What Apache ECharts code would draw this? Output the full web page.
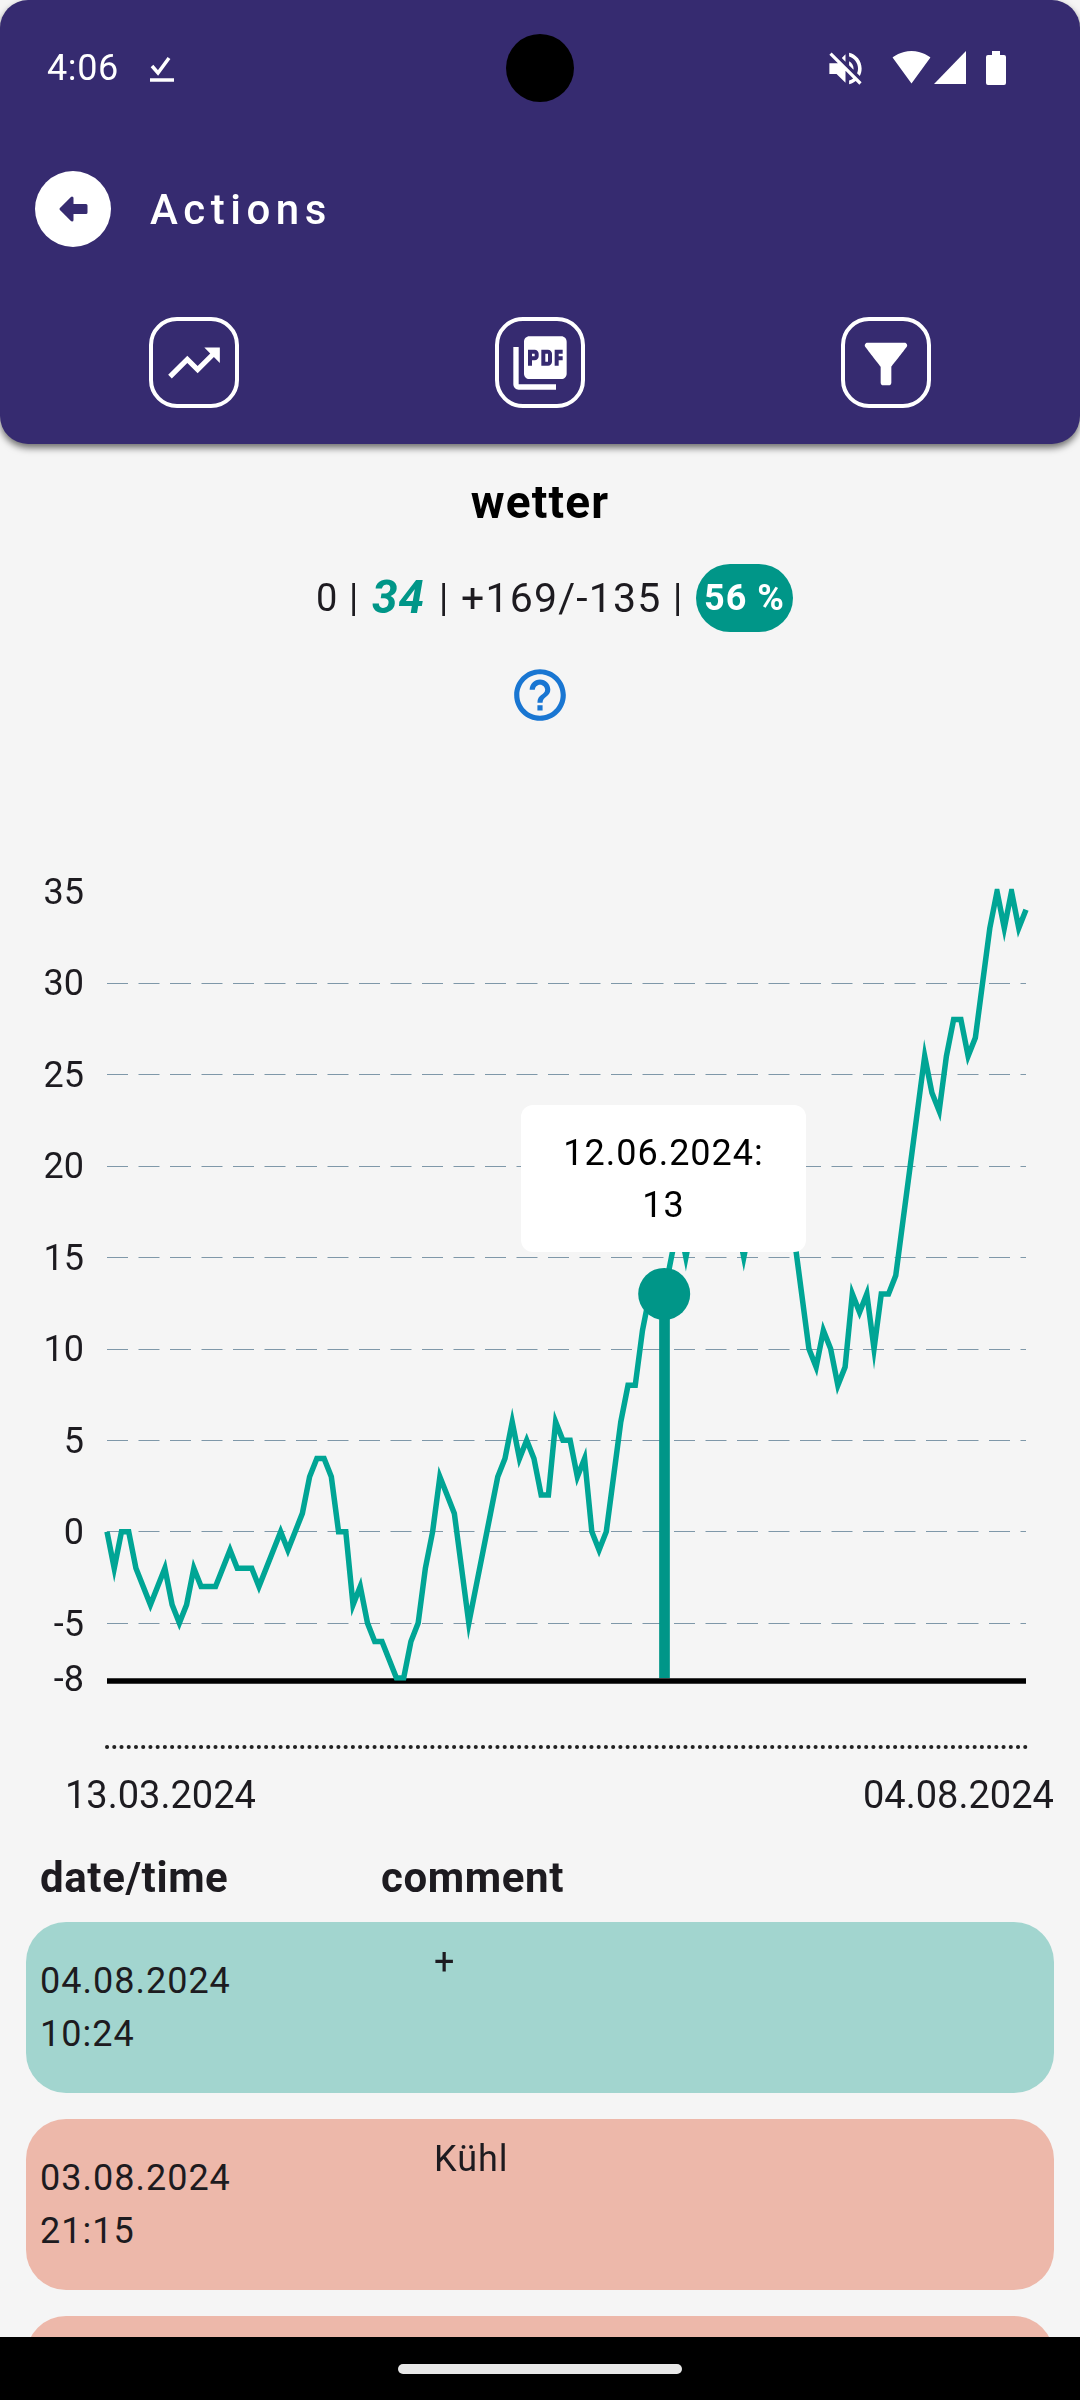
<!DOCTYPE html>
<html>

<head>
    <meta charset="utf-8">
    <title>Actions</title>
    <style>
        html, body { margin: 0; padding: 0; background: #f5f5f5; }
        body { position: relative; width: 1080px; height: 2400px; overflow: hidden; font-family: Roboto, sans-serif; color: #1d1b20; }
        #main { position: absolute; left: 0; top: 0; width: 1080px; height: 2400px; }
        .box { position: absolute; }
        .t { position: absolute; white-space: nowrap; line-height: 60px; height: 60px; margin-top: -30px; font-size: 36px; letter-spacing: 1px; }
        svg { position: absolute; }
        #header { left: 0; top: 0; width: 1080px; height: 444px; background: #362b70; border-radius: 28px; box-shadow: 0 4px 7px rgba(0, 0, 0, .55); }
        .btn { top: 317px; width: 82px; height: 83px; border: 4.5px solid #fff; border-radius: 28px; }
        .card { left: 26px; width: 1028px; height: 171px; border-radius: 40px; }
    </style>
</head>

<body>
<div id="main"></div>

<!-- header -->
<div class="box" id="header"></div>
<div class="box" style="left:506px;top:34px;width:68px;height:68px;border-radius:50%;background:#000"></div>
<div class="t" style="left:47px;top:68px;color:#fff;letter-spacing:.6px">4:06</div>
<svg style="left:148px;top:54px" width="28" height="30" viewBox="0 0 28 30"><path d="M4 12l6 7L21 4" fill="none" stroke="#fff" stroke-width="3.5"/><path d="M2 26h24" stroke="#fff" stroke-width="3.5"/></svg>
<svg style="left:824px;top:47px" width="43" height="43" viewBox="0 0 24 24"><path fill="#fff" d="M16.5 12c0-1.77-1.02-3.29-2.5-4.03v2.21l2.45 2.45c.03-.2.05-.41.05-.63zm2.5 0c0 .94-.2 1.82-.54 2.64l1.51 1.51C20.63 14.91 21 13.5 21 12c0-4.28-2.99-7.86-7-8.77v2.06c2.89.86 5 3.54 5 6.71zM4.27 3L3 4.27 7.73 9H3v6h4l5 5v-6.73l4.25 4.25c-.67.52-1.42.93-2.25 1.18v2.06c1.38-.31 2.63-.95 3.69-1.81L19.73 21 21 19.73l-9-9L4.27 3zM12 4L9.91 6.09 12 8.18V4z"/></svg>
<svg style="left:892px;top:46px" width="39" height="39" viewBox="0 0 24 24"><path fill="#fff" d="M12 23L23.64 7C23.19 6.66 18.71 3 12 3 5.28 3 .81 6.66.36 7z"/></svg>
<svg style="left:934px;top:51px" width="32" height="33" viewBox="0 0 32 33"><path fill="#fff" d="M0 33L32 0v33z"/></svg>
<svg style="left:986px;top:51px" width="20" height="34" viewBox="0 0 20 34"><path fill="#fff" d="M6 0h8v4h4q2 0 2 2v26q0 2-2 2H2q-2 0-2-2V6q0-2 2-2h4z"/></svg>

<div class="box" style="left:35px;top:171px;width:76px;height:76px;border-radius:50%;background:#fff"></div>
<svg style="left:35px;top:171px" width="76" height="76" viewBox="0 0 76 76"><path fill="#362b70" stroke="#362b70" stroke-width="3" stroke-linejoin="round" d="M26 38l11-11v7.500h14v7H37v7.500z"/></svg>
<div class="t" style="left:150px;top:210px;color:#fff;font-size:42px;font-weight:500;letter-spacing:5.5px">Actions</div>

<div class="box btn" style="left:148.500px"></div>
<div class="box btn" style="left:494.500px"></div>
<div class="box btn" style="left:840.500px"></div>
<svg style="left:163px;top:332px" width="62" height="62" viewBox="0 0 24 24"><path fill="#fff" d="M16 6l2.29 2.29-4.88 4.88-4-4L2 16.59 3.41 18l6-6 4 4 6.3-6.29L22 12V6z"/></svg>
<svg style="left:508px;top:331px" width="64" height="64" viewBox="0 0 24 24"><path fill="#fff" d="M20 2H8c-1.1 0-2 .9-2 2v12c0 1.1.9 2 2 2h12c1.1 0 2-.9 2-2V4c0-1.1-.9-2-2-2zm-8.500 7.500c0 .83-.67 1.500-1.500 1.500H9v2H7.500V7H10c.83 0 1.500.67 1.500 1.500v1zm5 2c0 .83-.67 1.500-1.500 1.500h-2.500V7H15c.83 0 1.500.67 1.500 1.500v3zm4-3H19v1h1.500V11H19v2h-1.500V7h3v1.500zM9 9.500h1v-1H9v1zM4 6H2v14c0 1.100.9 2 2 2h14v-2H4V6zm10 5.500h1v-3h-1v3z"/></svg>
<svg style="left:854px;top:332px" width="64" height="64" viewBox="0 0 24 24"><path fill="#fff" d="M4.250 5.610C6.270 8.200 10 13 10 13v6c0 .55.45 1 1 1h2c.55 0 1-.45 1-1v-6s3.720-4.800 5.740-7.390c.51-.66.04-1.610-.79-1.610H5.040c-.83 0-1.300.95-.79 1.610z"/></svg>

<!-- summary -->
<div class="t" style="left:0;width:1080px;text-align:center;top:502px;font-size:46px;font-weight:700;color:#000;letter-spacing:1.2px">wetter</div>
<div class="t" style="left:316px;top:598px;font-size:38px">0</div>
<div class="t" style="left:349px;top:598px;font-size:38px">|</div>
<div class="t" style="left:372px;top:597px;font-size:46px;font-weight:700;font-style:italic;color:#009688">34</div>
<div class="t" style="left:439px;top:598px;font-size:38px">|</div>
<div class="t" style="left:461px;top:598px;font-size:41px;letter-spacing:1.200px">+169/-135</div>
<div class="t" style="left:673px;top:598px;font-size:38px">|</div>
<div class="box" style="left:696px;top:564px;width:97px;height:68px;border-radius:34px;background:#009688"></div>
<div class="t" style="left:704px;top:598px;font-size:36px;font-weight:700;color:#fff">56 %</div>
<svg style="left:509px;top:664px" width="62" height="62" viewBox="0 0 24 24"><path fill="#1976d2" d="M11 18h2v-2h-2v2zm1-16C6.480 2 2 6.480 2 12s4.480 10 10 10 10-4.480 10-10S17.520 2 12 2zm0 18c-4.410 0-8-3.590-8-8s3.590-8 8-8 8 3.590 8 8-3.590 8-8 8zm0-14c-2.210 0-4 1.790-4 4h2c0-1.100.9-2 2-2s2 .9 2 2c0 2-3 1.750-3 5h2c0-2.250 3-2.500 3-5 0-2.210-1.790-4-4-4z"/></svg>

<!-- list -->
<div class="t" style="left:40px;top:1878px;font-size:42px;font-weight:700;letter-spacing:.6px">date/time</div>
<div class="t" style="left:381px;top:1878px;font-size:42px;font-weight:700;letter-spacing:.6px">comment</div>
<div class="box card" style="top:1922px;background:#a2d5cf"></div>
<div class="t" style="left:40px;top:1981px">04.08.2024</div>
<div class="t" style="left:40px;top:2034px">10:24</div>
<div class="t" style="left:434px;top:1962px">+</div>
<div class="box card" style="top:2119px;background:#edb8aa"></div>
<div class="t" style="left:40px;top:2178px">03.08.2024</div>
<div class="t" style="left:40px;top:2231px">21:15</div>
<div class="t" style="left:434px;top:2159px">Kühl</div>
<div class="box card" style="top:2316px;background:#edb8aa"></div>
<div class="box" style="left:0;top:2337px;width:1080px;height:63px;background:#000"></div>
<div class="box" style="left:398px;top:2364px;width:284px;height:10px;border-radius:5px;background:#e8e8e8"></div>

<script src="https://cdn.jsdelivr.net/npm/echarts@6/dist/echarts.min.js"></script>
<script>
    // values, one per action (the stretch behind the tooltip is estimated)
    var values = [
        0, -2, 0, 0, -2, -3, -4, -3, -2, -4,
        -5, -4, -2, -3, -3, -3, -2, -1, -2, -2,
        -2, -3, -2, -1, 0, -1, 0, 1, 3, 4,
        4, 3, 0, 0, -4, -3, -5, -6, -6, -7,
        -8, -8, -6, -5, -2, 0, 3, 2, 1, -2,
        -5, -3, -1, 1, 3, 4, 6, 4, 5, 4,
        2, 2, 6, 5, 5, 3, 4, 0, -1, 0,
        3, 6, 8, 8, 11, 13, 13, 13, 15, 17,
        15, 17, 18, 19, 20, 19, 18, 17, 15, 17,
        18, 19, 18, 18, 17, 16, 13, 10, 9, 11,
        10, 8, 9, 13, 12, 13, 10, 13, 13, 14,
        17, 20, 23, 26, 24, 23, 26, 28, 28, 26,
        27, 30, 33, 35, 33, 35, 33, 34
    ];
    var categories = values.map(function (v, i) { return i; });
    var dateLabels = ['13.03.2024', '04.08.2024'];
    var yLabels = [-8, -5, 0, 5, 10, 15, 20, 25, 30, 35];
    var gridValues = [-5, 0, 5, 10, 15, 20, 25, 30];
    var selectedIndex = 77;
    var selectedDate = '12.06.2024';

    var teal = '#009688';
    var myChart = echarts.init(document.getElementById('main'));
    var option = {
        animation: false,
        grid: { left: 107, top: 891.5, width: 919, height: 786.5 },
        tooltip: {
            trigger: 'axis',
            axisPointer: { type: 'none' },
            alwaysShowContent: true,
            position: [521, 1105],
            padding: 0,
            borderWidth: 0,
            backgroundColor: '#fff',
            shadowBlur: 0,
            shadowColor: 'transparent',
            extraCssText: 'box-shadow:none;border-radius:12px;width:285px;height:147px;',
            formatter: function (params) {
                return '<div style="font:36px/52px Roboto;letter-spacing:1px;color:#000;text-align:center;padding-top:22px">' +
                    selectedDate + ':<br>' + params[0].value + '</div>';
            }
        },
        xAxis: [{
            type: 'category',
            boundaryGap: false,
            data: categories,
            offset: 3,
            axisLine: { onZero: false, lineStyle: { color: '#000', width: 5.5, cap: 'butt' } },
            axisTick: { show: false },
            axisLabel: { show: false }
        }, {
            type: 'category',
            boundaryGap: false,
            position: 'bottom',
            data: categories,
            offset: 68.5,
            axisLine: { onZero: false, lineStyle: { color: '#222', width: 4, type: [0.1, 7.13], cap: 'round' } },
            axisTick: { show: false },
            axisLabel: { show: false }
        }],
        yAxis: {
            type: 'value',
            min: -8,
            max: 35,
            axisLine: { show: false },
            axisTick: { show: false, customValues: gridValues },
            axisLabel: {
                customValues: yLabels,
                margin: 23,
                formatter: function (v) { return '{n|' + v + '}'; },
                rich: {
                    n: { fontFamily: 'Roboto', fontSize: 36, color: '#1d1b20', padding: [7, 0, 0, 0] }
                }
            },
            splitLine: {
                show: true,
                lineStyle: { color: '#7f98a9', width: 1, type: [21, 10.5] }
            }
        },
        graphic: [
            { type: 'text', left: 65, top: 1779, style: { text: dateLabels[0], font: '38px Roboto', fill: '#1d1b20' } },
            { type: 'text', left: 863, top: 1779, style: { text: dateLabels[1], font: '38px Roboto', fill: '#1d1b20' } }
        ],
        series: [{
            type: 'line',
            data: values,
            showSymbol: false,
            lineStyle: { color: teal, width: 5.5, join: 'miter', miterLimit: 10 },
            itemStyle: { color: teal },
            markLine: {
                silent: true,
                symbol: 'none',
                label: { show: false },
                lineStyle: { color: teal, width: 10.7, type: 'solid' },
                data: [[
                    { coord: [selectedIndex, values[selectedIndex]] },
                    { coord: [selectedIndex, yLabels[0]] }
                ]]
            },
            markPoint: {
                silent: true,
                symbol: 'circle',
                symbolSize: 52,
                label: { show: false },
                itemStyle: { color: teal },
                data: [{ coord: [selectedIndex, values[selectedIndex]] }]
            }
        }]
    };
    myChart.setOption(option);
    myChart.dispatchAction({ type: 'showTip', seriesIndex: 0, dataIndex: selectedIndex });
</script>
</body>

</html>
